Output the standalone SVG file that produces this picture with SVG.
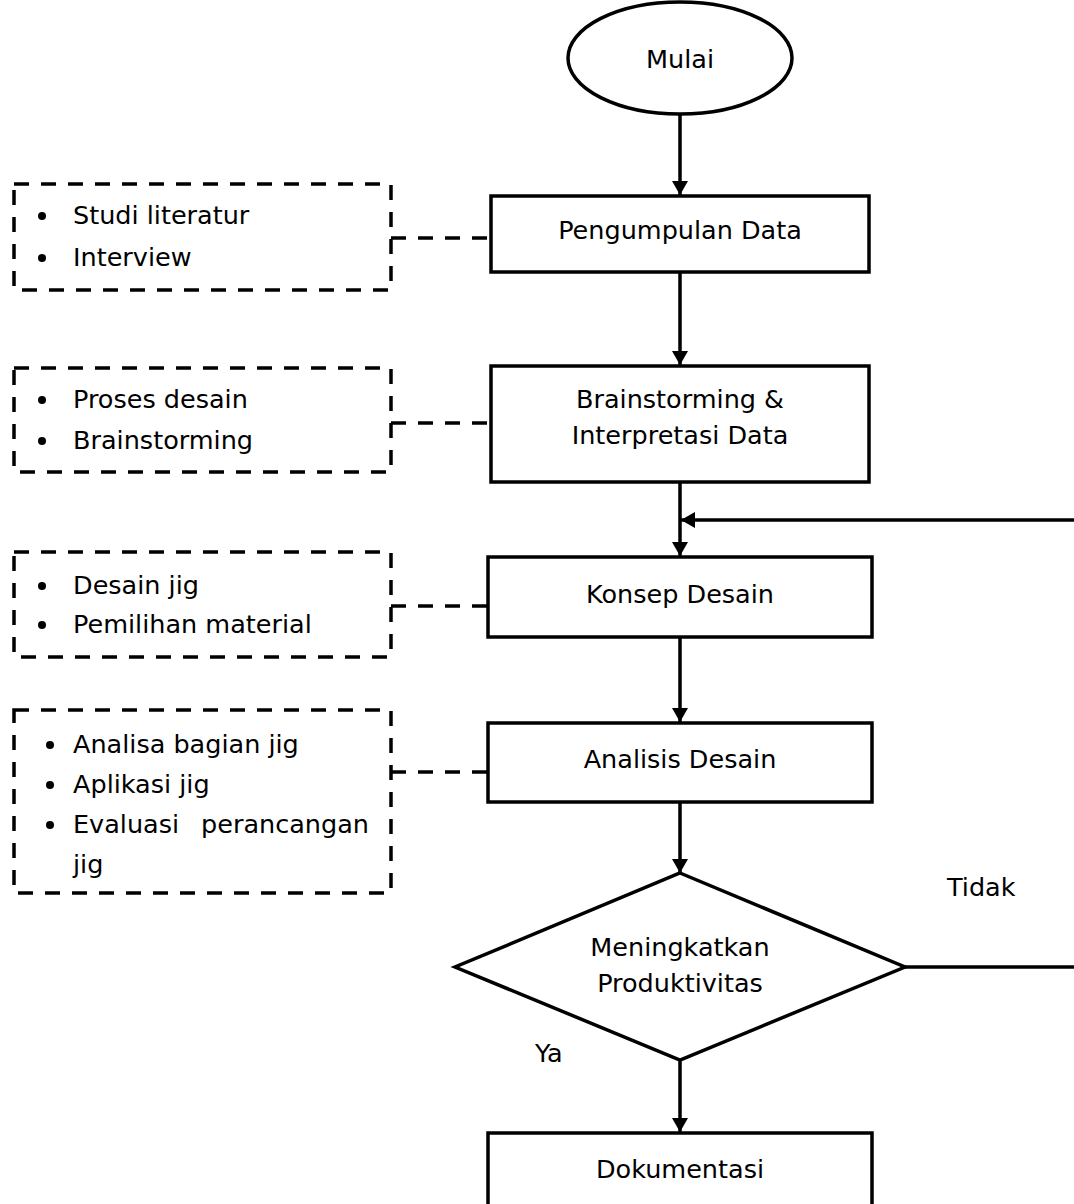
<svg xmlns="http://www.w3.org/2000/svg" width="1074" height="1204" viewBox="0 0 1074 1204">
  <style>
    .shape { fill: #fff; stroke: #000; stroke-width: 3.5; }
    .note { fill: none; stroke: #000; stroke-width: 3.5; stroke-dasharray: 15 12; }
    .link { fill: none; stroke: #000; stroke-width: 3.5; }
    .dash { fill: none; stroke: #000; stroke-width: 3.5; stroke-dasharray: 15 12; }
    text { font-family: "DejaVu Sans", Verdana, sans-serif; font-size: 25.5px; fill: #000; }
    .c { text-anchor: middle; }
    .e { text-anchor: end; }
  </style>
  <defs>
    <marker id="arrow" viewBox="0 0 10 10" refX="10" refY="5" markerWidth="4" markerHeight="4.6" markerUnits="strokeWidth" orient="auto" preserveAspectRatio="none">
      <path d="M0,0 L10,5 L0,10 Z" fill="#000"/>
    </marker>
  </defs>

  <g id="connectors">
    <line class="link" x1="680" y1="115" x2="680" y2="195" marker-end="url(#arrow)"/>
    <line class="link" x1="680" y1="272" x2="680" y2="365" marker-end="url(#arrow)"/>
    <line class="link" x1="680" y1="482" x2="680" y2="556" marker-end="url(#arrow)"/>
    <line class="link" x1="1074" y1="520" x2="681" y2="520" marker-end="url(#arrow)"/>
    <line class="link" x1="680" y1="637" x2="680" y2="722" marker-end="url(#arrow)"/>
    <line class="link" x1="680" y1="802" x2="680" y2="873" marker-end="url(#arrow)"/>
    <line class="link" x1="905" y1="967" x2="1074" y2="967"/>
    <line class="link" x1="680" y1="1060" x2="680" y2="1132" marker-end="url(#arrow)"/>
    <line class="dash" x1="391" y1="238" x2="491" y2="238"/>
    <line class="dash" x1="391" y1="423" x2="491" y2="423"/>
    <line class="dash" x1="391" y1="606" x2="488" y2="606"/>
    <line class="dash" x1="391" y1="772" x2="488" y2="772"/>
  </g>

  <g id="start">
    <ellipse class="shape" cx="680" cy="58" rx="112" ry="56"/>
    <text class="c" x="680" y="68">Mulai</text>
  </g>

  <g id="pengumpulan-data">
    <rect class="shape" x="491" y="196" width="378" height="76"/>
    <text class="c" x="680" y="239">Pengumpulan Data</text>
  </g>

  <g id="brainstorming">
    <rect class="shape" x="491" y="366" width="378" height="116"/>
    <text class="c" x="680" y="408">Brainstorming &amp;</text>
    <text class="c" x="680" y="444">Interpretasi Data</text>
  </g>

  <g id="konsep-desain">
    <rect class="shape" x="488" y="557" width="384" height="80"/>
    <text class="c" x="680" y="603">Konsep Desain</text>
  </g>

  <g id="analisis-desain">
    <rect class="shape" x="488" y="723" width="384" height="79"/>
    <text class="c" x="680" y="768">Analisis Desain</text>
  </g>

  <g id="keputusan">
    <polygon class="shape" points="680,873 905,967 680,1060 455,967"/>
    <text class="c" x="680" y="956">Meningkatkan</text>
    <text class="c" x="680" y="992">Produktivitas</text>
  </g>

  <g id="dokumentasi">
    <rect class="shape" x="488" y="1133" width="384" height="80"/>
    <text class="c" x="680" y="1178">Dokumentasi</text>
  </g>

  <g id="labels">
    <text x="947" y="896">Tidak</text>
    <text x="535" y="1062">Ya</text>
  </g>

  <g id="note-1">
    <rect class="note" x="14" y="184" width="377" height="106"/>
    <circle cx="42" cy="216" r="4"/>
    <text x="73" y="224">Studi literatur</text>
    <circle cx="42" cy="258" r="4"/>
    <text x="73" y="266">Interview</text>
  </g>

  <g id="note-2">
    <rect class="note" x="14" y="368" width="377" height="104"/>
    <circle cx="42" cy="400" r="4"/>
    <text x="73" y="408">Proses desain</text>
    <circle cx="42" cy="441" r="4"/>
    <text x="73" y="449">Brainstorming</text>
  </g>

  <g id="note-3">
    <rect class="note" x="14" y="552" width="377" height="105"/>
    <circle cx="42" cy="586" r="4"/>
    <text x="73" y="594">Desain jig</text>
    <circle cx="42" cy="625" r="4"/>
    <text x="73" y="633">Pemilihan material</text>
  </g>

  <g id="note-4">
    <rect class="note" x="14" y="710" width="377" height="183"/>
    <circle cx="50" cy="745" r="4"/>
    <text x="73" y="753">Analisa bagian jig</text>
    <circle cx="50" cy="785" r="4"/>
    <text x="73" y="793">Aplikasi jig</text>
    <circle cx="50" cy="825" r="4"/>
    <text x="73" y="833">Evaluasi</text>
    <text class="e" x="369" y="833">perancangan</text>
    <text x="73" y="873">jig</text>
  </g>
</svg>
